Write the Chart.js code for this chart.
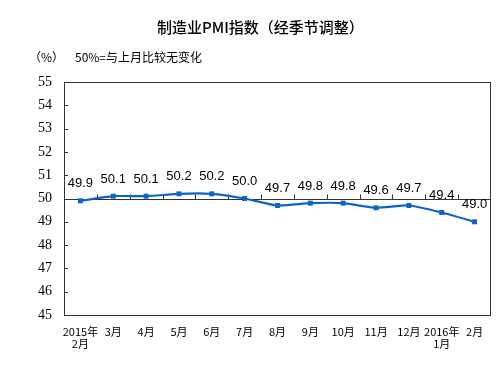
<!DOCTYPE html>
<html>
<head>
<meta charset="utf-8">
<script src="https://cdn.jsdelivr.net/npm/chart.js@4/dist/chart.umd.min.js"></script>
<style>
  body { margin: 0; background: #fff; }
  #wrap { position: relative; width: 498px; height: 367px; }
  .txt { position: absolute; font-family: "Noto Sans CJK SC", sans-serif; color: #000; white-space: nowrap; }
  #title { left: 157px; top: 17px; font-size: 15px; line-height: 20px; font-weight: 500; }
  #unit { left: 29px; top: 49px; font-size: 12px; line-height: 16px; }
  #note { left: 75px; top: 49px; font-size: 12px; line-height: 16px; }
</style>
</head>
<body>
<div id="wrap">
  <canvas id="chart" width="498" height="367"></canvas>
  <div class="txt" id="title">制造业PMI指数（经季节调整）</div>
  <div class="txt" id="unit">（%）</div>
  <div class="txt" id="note">50%=与上月比较无变化</div>
</div>
<script>
const months = [['2015年', '2月'], '3月', '4月', '5月', '6月', '7月', '8月', '9月', '10月', '11月', '12月', ['2016年', '1月'], '2月'];
const pmi = [49.9, 50.1, 50.1, 50.2, 50.2, 50.0, 49.7, 49.8, 49.8, 49.6, 49.7, 49.4, 49.0];
const yTicks = [45, 46, 47, 48, 49, 50, 51, 52, 53, 54, 55];

const lineColor = '#0e63c6';

// frame, 50 axis with category ticks, inward y ticks
const framePlugin = {
    id: 'frame',
    beforeDatasetsDraw(chart) {
        const ctx = chart.ctx;
        const a = chart.chartArea;
        const x = chart.scales.x;
        const y = chart.scales.y;
        ctx.save();
        ctx.strokeStyle = '#333';
        ctx.lineWidth = 1;
        ctx.strokeRect(Math.round(a.left) + 0.5, Math.round(a.top) + 0.5, Math.round(a.right - a.left) - 1, Math.round(a.bottom - a.top));

        ctx.beginPath();
        yTicks.forEach(v => {
            if (v === yTicks[0] || v === yTicks[yTicks.length - 1]) return;
            const py = Math.round(y.getPixelForValue(v)) + 0.5;
            ctx.moveTo(a.left, py);
            ctx.lineTo(a.left + 4, py);
        });
        const p50 = Math.round(y.getPixelForValue(50)) + 0.5;
        ctx.moveTo(a.left, p50);
        ctx.lineTo(a.right, p50);
        for (let i = 0; i < months.length - 1; i++) {
            const px = Math.round((x.getPixelForValue(i) + x.getPixelForValue(i + 1)) / 2) + 0.5;
            ctx.moveTo(px, p50);
            ctx.lineTo(px, p50 - 5);
        }
        ctx.stroke();
        ctx.restore();
    },
    afterDatasetsDraw(chart) {
        const ctx = chart.ctx;
        const meta = chart.getDatasetMeta(0);
        ctx.save();
        ctx.font = '13px "Liberation Sans", Arial, sans-serif';
        ctx.fillStyle = '#000';
        ctx.textAlign = 'center';
        ctx.textBaseline = 'middle';
        meta.data.forEach((pt, i) => {
            ctx.fillText(pmi[i].toFixed(1), pt.x, pt.y - 17);
        });
        ctx.restore();
    }
};

new Chart(document.getElementById('chart'), {
    type: 'line',
    data: {
        labels: months,
        datasets: [{
            data: pmi,
            borderColor: lineColor,
            backgroundColor: lineColor,
            borderWidth: 2.2,
            tension: 0.2,
            pointStyle: 'rect',
            pointRadius: 3.5,
            pointBorderWidth: 0
        }]
    },
    options: {
        responsive: false,
        animation: false,
        devicePixelRatio: 1,
        layout: { padding: { top: 82, right: 7, left: 0, bottom: 0 } },
        plugins: {
            legend: { display: false },
            tooltip: { enabled: false }
        },
        scales: {
            x: {
                offset: true,
                grid: { display: false, drawTicks: false },
                border: { display: false },
                ticks: {
                    autoSkip: false,
                    maxRotation: 0,
                    padding: 11,
                    color: '#000',
                    font: { family: '"Noto Sans CJK SC", sans-serif', size: 11, lineHeight: 1.05 }
                },
                afterFit(scale) { scale.height = 52; }
            },
            y: {
                min: 45,
                max: 55,
                grid: { display: false, drawTicks: false },
                border: { display: false },
                ticks: {
                    stepSize: 1,
                    padding: 12,
                    color: '#000',
                    font: { family: '"Liberation Serif", "Times New Roman", serif', size: 14 }
                },
                afterFit(scale) { scale.width = 64; }
            }
        }
    },
    plugins: [framePlugin]
});
</script>
</body>
</html>
